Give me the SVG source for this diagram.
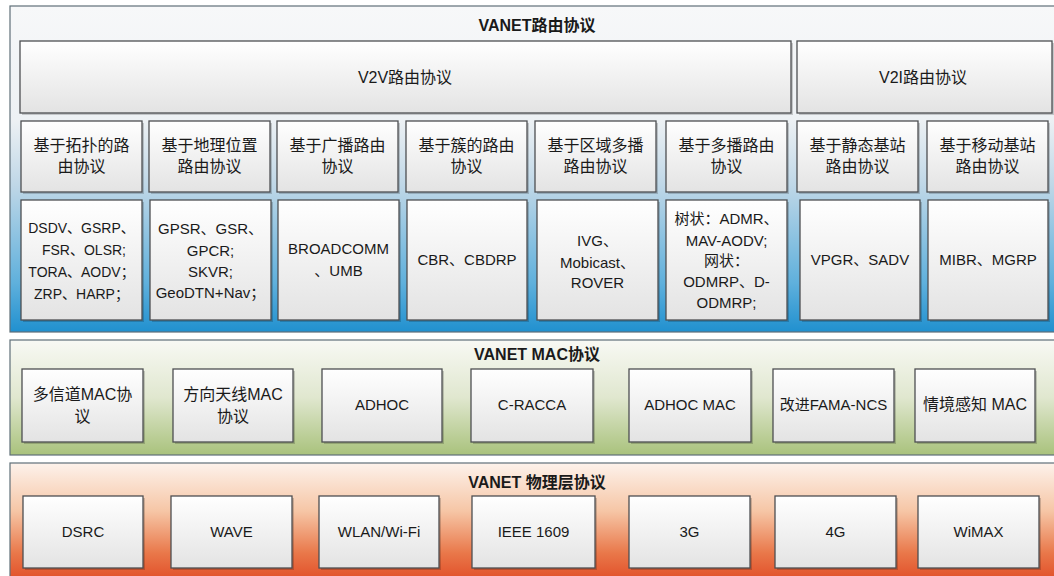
<svg xmlns="http://www.w3.org/2000/svg" width="1054" height="576" viewBox="0 0 1054 576">
<style>
text{font-family:"Liberation Sans","Noto Sans CJK SC",sans-serif;font-size:15px;fill:#1a1a1a;text-anchor:middle}
.title{font-weight:bold;font-size:16px}
.cj{font-size:16px}
.sm{font-size:14px}
.box{fill:url(#boxGrad);stroke:#4d4f52;stroke-width:1.3}
.shadow{fill:#000;opacity:0.18}
.panel{stroke:#5f6f78;stroke-width:1.2}
</style>
<defs>
<linearGradient id="boxGrad" x1="0" y1="0" x2="0" y2="1">
<stop offset="0" stop-color="#ffffff"/><stop offset="1" stop-color="#e3e3e3"/>
</linearGradient>
<linearGradient id="blueGrad" x1="0" y1="0" x2="0" y2="1">
<stop offset="0" stop-color="#f7f8f9"/><stop offset="0.35" stop-color="#edf1f4"/><stop offset="0.55" stop-color="#bfd7e7"/><stop offset="0.85" stop-color="#5fb0dc"/><stop offset="1" stop-color="#2090cf"/>
</linearGradient>
<linearGradient id="greenGrad" x1="0" y1="0" x2="0" y2="1">
<stop offset="0" stop-color="#f8f9f4"/><stop offset="0.5" stop-color="#e0e7cf"/><stop offset="1" stop-color="#a9c27c"/>
</linearGradient>
<linearGradient id="orangeGrad" x1="0" y1="0" x2="0" y2="1">
<stop offset="0" stop-color="#fdf2eb"/><stop offset="0.4" stop-color="#f6c6a6"/><stop offset="0.75" stop-color="#e9784a"/><stop offset="1" stop-color="#e04b25"/>
</linearGradient>
</defs>
<rect width="1054" height="576" fill="#ffffff"/>

<g id="routing-layer">
<rect class="panel" x="10" y="6" width="1052" height="326" fill="url(#blueGrad)"/>
<text class="title" x="537" y="31">VANET路由协议</text>
</g>
<g id="v2v"><rect class="shadow" x="22" y="43" width="771" height="72"/><rect class="box" x="20" y="41" width="771" height="72"/><text class="cj" x="405" y="83">V2V路由协议</text></g>
<g id="v2i"><rect class="shadow" x="799" y="43" width="255" height="72"/><rect class="box" x="797" y="41" width="255" height="72"/><text class="cj" x="923" y="83">V2I路由协议</text></g>

<g id="cat1"><rect class="shadow" x="23" y="123" width="121" height="71"/><rect class="box" x="21" y="121" width="121" height="71"/><text class="cj" x="81.5" y="151">基于拓扑的路</text><text class="cj" x="81.5" y="172">由协议</text></g>
<g id="cat2"><rect class="shadow" x="151" y="123" width="121" height="71"/><rect class="box" x="149" y="121" width="121" height="71"/><text class="cj" x="209.5" y="151">基于地理位置</text><text class="cj" x="209.5" y="172">路由协议</text></g>
<g id="cat3"><rect class="shadow" x="279" y="123" width="121" height="71"/><rect class="box" x="277" y="121" width="121" height="71"/><text class="cj" x="337.5" y="151">基于广播路由</text><text class="cj" x="337.5" y="172">协议</text></g>
<g id="cat4"><rect class="shadow" x="408" y="123" width="121" height="71"/><rect class="box" x="406" y="121" width="121" height="71"/><text class="cj" x="466.5" y="151">基于簇的路由</text><text class="cj" x="466.5" y="172">协议</text></g>
<g id="cat5"><rect class="shadow" x="537" y="123" width="121" height="71"/><rect class="box" x="535" y="121" width="121" height="71"/><text class="cj" x="595.5" y="151">基于区域多播</text><text class="cj" x="595.5" y="172">路由协议</text></g>
<g id="cat6"><rect class="shadow" x="668" y="123" width="121" height="71"/><rect class="box" x="666" y="121" width="121" height="71"/><text class="cj" x="726.5" y="151">基于多播路由</text><text class="cj" x="726.5" y="172">协议</text></g>
<g id="cat7"><rect class="shadow" x="799" y="123" width="121" height="71"/><rect class="box" x="797" y="121" width="121" height="71"/><text class="cj" x="857.5" y="151">基于静态基站</text><text class="cj" x="857.5" y="172">路由协议</text></g>
<g id="cat8"><rect class="shadow" x="929" y="123" width="121" height="71"/><rect class="box" x="927" y="121" width="121" height="71"/><text class="cj" x="987.5" y="151">基于移动基站</text><text class="cj" x="987.5" y="172">路由协议</text></g>

<g id="proto1"><rect class="shadow" x="23" y="202" width="121" height="120"/><rect class="box" x="21" y="200" width="121" height="120"/><text class="sm" x="81.5" y="233">DSDV、GSRP、</text><text class="sm" x="84" y="255">FSR、OLSR;</text><text class="sm" x="81.5" y="277">TORA、AODV；</text><text class="sm" x="81.5" y="299">ZRP、HARP；</text></g>
<g id="proto2"><rect class="shadow" x="152" y="202" width="121" height="120"/><rect class="box" x="150" y="200" width="121" height="120"/><text x="210.5" y="234">GPSR、GSR、</text><text x="210.5" y="256">GPCR;</text><text x="210.5" y="277">SKVR;</text><text x="210.5" y="298">GeoDTN+Nav；</text></g>
<g id="proto3"><rect class="shadow" x="280" y="202" width="121" height="120"/><rect class="box" x="278" y="200" width="121" height="120"/><text x="338.5" y="254">BROADCOMM</text><text x="338.5" y="276">、UMB</text></g>
<g id="proto4"><rect class="shadow" x="409" y="202" width="120" height="120"/><rect class="box" x="407" y="200" width="120" height="120"/><text x="467" y="265">CBR、CBDRP</text></g>
<g id="proto5"><rect class="shadow" x="539" y="202" width="121" height="120"/><rect class="box" x="537" y="200" width="121" height="120"/><text x="597.5" y="246">IVG、</text><text x="597.5" y="268">Mobicast、</text><text x="597.5" y="288">ROVER</text></g>
<g id="proto6"><rect class="shadow" x="668" y="202" width="121" height="120"/><rect class="box" x="666" y="200" width="121" height="120"/><text x="726.5" y="224">树状：ADMR、</text><text x="726.5" y="246">MAV-AODV;</text><text x="726.5" y="266">网状：</text><text x="726.5" y="287">ODMRP、D-</text><text x="726.5" y="308">ODMRP;</text></g>
<g id="proto7"><rect class="shadow" x="802" y="202" width="120" height="120"/><rect class="box" x="800" y="200" width="120" height="120"/><text x="860" y="265">VPGR、SADV</text></g>
<g id="proto8"><rect class="shadow" x="930" y="202" width="120" height="120"/><rect class="box" x="928" y="200" width="120" height="120"/><text x="988" y="265">MIBR、MGRP</text></g>

<g id="mac-layer">
<rect class="panel" x="10" y="340" width="1052" height="115" fill="url(#greenGrad)"/>
<text class="title" x="537" y="360">VANET MAC协议</text>
</g>
<g id="mac1"><rect class="shadow" x="24" y="371" width="121" height="73"/><rect class="box" x="22" y="369" width="121" height="73"/><text class="cj" x="82.5" y="400">多信道MAC协</text><text class="cj" x="82.5" y="422">议</text></g>
<g id="mac2"><rect class="shadow" x="175" y="371" width="120" height="73"/><rect class="box" x="173" y="369" width="120" height="73"/><text class="cj" x="233" y="400">方向天线MAC</text><text class="cj" x="233" y="422">协议</text></g>
<g id="mac3"><rect class="shadow" x="324" y="371" width="120" height="73"/><rect class="box" x="322" y="369" width="120" height="73"/><text x="382" y="410">ADHOC</text></g>
<g id="mac4"><rect class="shadow" x="473" y="371" width="122" height="73"/><rect class="box" x="471" y="369" width="122" height="73"/><text x="532" y="410">C-RACCA</text></g>
<g id="mac5"><rect class="shadow" x="631" y="371" width="122" height="73"/><rect class="box" x="629" y="369" width="122" height="73"/><text x="690" y="410">ADHOC MAC</text></g>
<g id="mac6"><rect class="shadow" x="775" y="371" width="121" height="73"/><rect class="box" x="773" y="369" width="121" height="73"/><text x="833.5" y="410">改进FAMA-NCS</text></g>
<g id="mac7"><rect class="shadow" x="917" y="371" width="120" height="73"/><rect class="box" x="915" y="369" width="120" height="73"/><text class="cj" x="975" y="410">情境感知 MAC</text></g>

<g id="phy-layer">
<rect class="panel" x="10" y="463" width="1052" height="120" fill="url(#orangeGrad)"/>
<text class="title" x="537" y="488">VANET 物理层协议</text>
</g>
<g id="phy1"><rect class="shadow" x="25" y="498" width="120" height="72"/><rect class="box" x="23" y="496" width="120" height="72"/><text x="83" y="537">DSRC</text></g>
<g id="phy2"><rect class="shadow" x="173" y="498" width="121" height="72"/><rect class="box" x="171" y="496" width="121" height="72"/><text x="231.5" y="537">WAVE</text></g>
<g id="phy3"><rect class="shadow" x="321" y="498" width="120" height="72"/><rect class="box" x="319" y="496" width="120" height="72"/><text x="379" y="537">WLAN/Wi-Fi</text></g>
<g id="phy4"><rect class="shadow" x="474" y="498" width="123" height="72"/><rect class="box" x="472" y="496" width="123" height="72"/><text x="533.5" y="537">IEEE 1609</text></g>
<g id="phy5"><rect class="shadow" x="631" y="498" width="121" height="72"/><rect class="box" x="629" y="496" width="121" height="72"/><text x="689.5" y="537">3G</text></g>
<g id="phy6"><rect class="shadow" x="777" y="498" width="121" height="72"/><rect class="box" x="775" y="496" width="121" height="72"/><text x="835.5" y="537">4G</text></g>
<g id="phy7"><rect class="shadow" x="920" y="498" width="121" height="72"/><rect class="box" x="918" y="496" width="121" height="72"/><text x="978.5" y="537">WiMAX</text></g>

<g id="connectors"></g>
</svg>
